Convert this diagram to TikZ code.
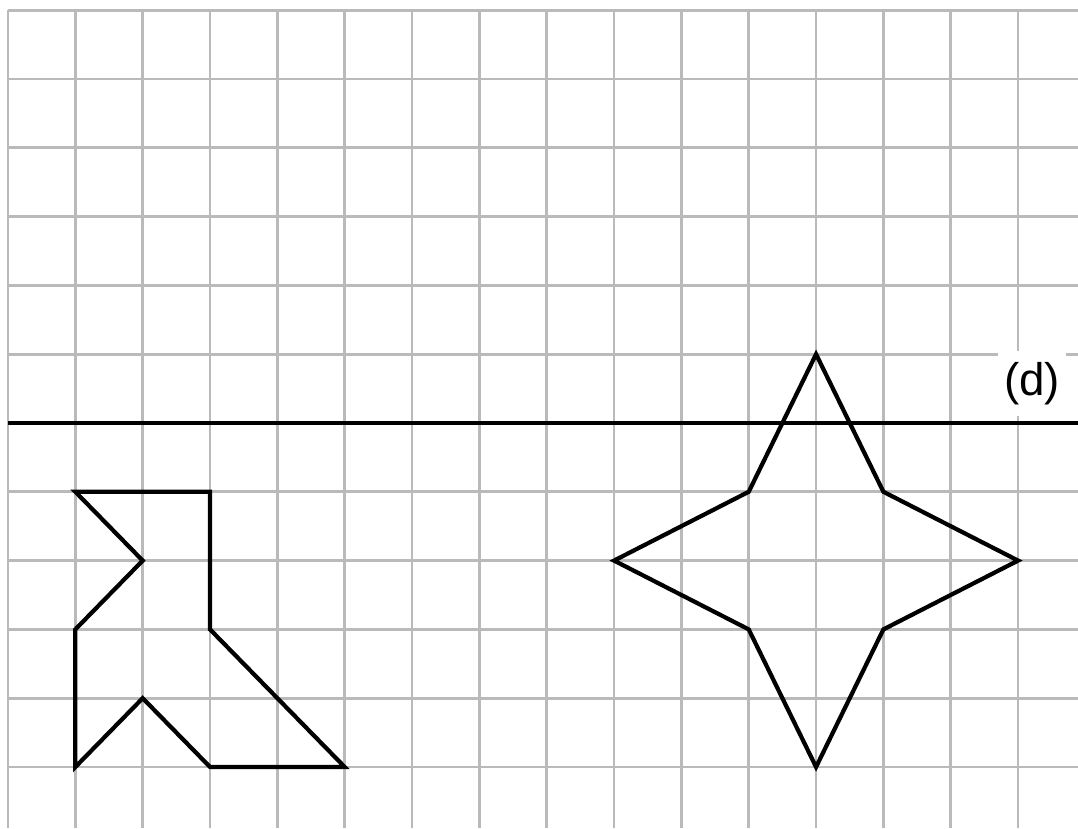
\documentclass[tikz,border=0pt]{standalone}
\usepackage{fontspec}
\setmainfont{Liberation Sans}
\definecolor{GridGray}{HTML}{BABABA}
\tikzset{gridline/.style={draw=GridGray,line width=1.6pt},figline/.style={draw=black,line width=2.4pt,line join=miter},axisline/.style={draw=black,line width=2.2pt},tag/.style={fill=white,inner xsep=0.12cm,inner ysep=0.22cm,font=\fontsize{26}{30}\selectfont}}

\begin{document}
\begin{tikzpicture}[x=1.3467cm,y=1.376cm]
\useasboundingbox (-0.119,-0.887) rectangle (15.89,11.148);
\foreach \i in {0,...,15} \draw[gridline] (\i,11) -- (\i,-0.887);
\foreach \j in {0,...,11} \draw[gridline] (0,\j) -- (15.89,\j);
\node[tag] (dlabel) at (15.21,5.57) {(d)};
\draw[axisline] (0,5) -- (15.89,5);
% boot shape
\draw[figline] (1,4) -- (3,4) -- (3,2) -- (5,0) -- (3,0) -- (2,1) -- (1,0) -- (1,2) -- (2,3) -- cycle;
% four-pointed star
\draw[figline] (12,6) -- (13,4) -- (15,3) -- (13,2) -- (12,0) -- (11,2) -- (9,3) -- (11,4) -- cycle;
\end{tikzpicture}
\end{document}
